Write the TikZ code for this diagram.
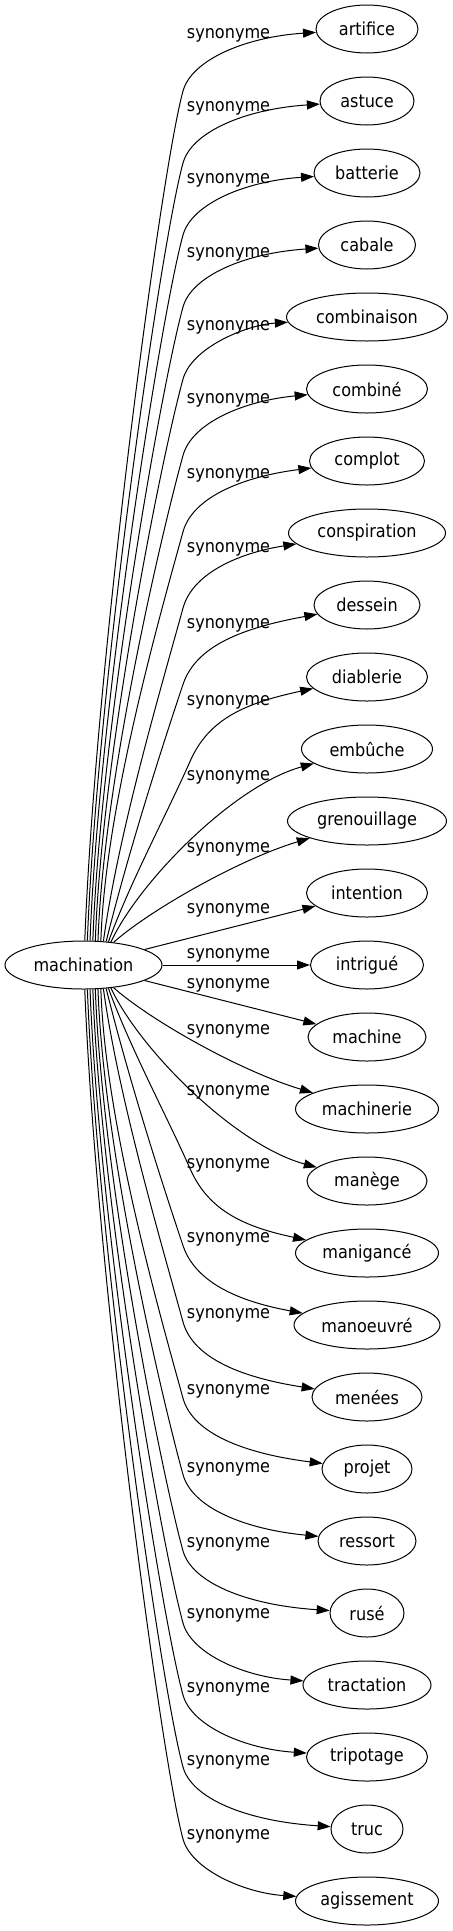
\documentclass[tikz,border=0pt]{standalone}
\usepackage{fontspec}
\setmainfont{DejaVu Sans Condensed}
\usetikzlibrary{shapes.geometric,arrows.meta}
\begin{document}
\begin{tikzpicture}[x=0.75pt,y=-0.75pt,
  every node/.style={font=\fontsize{13.4pt}{16pt}\selectfont},
  term/.style={ellipse, draw, line width=0.75pt, inner sep=0pt, minimum height=36pt},
  rel/.style={anchor=base, inner sep=0pt},
  link/.style={line width=0.75pt, -{Triangle[length=9.75pt,width=6.75pt]}}]
\path[fill=white, use as bounding box] (0,0) rectangle (453,1931);
\node[term, minimum width=117.75pt] (m) at (83.5,965) {machination};
\foreach \i/\w/\t/\ly in {0/102/artifice/33, 1/94/astuce/106, 2/106/batterie/178,
  3/97/cabale/252, 4/161/combinaison/325, 5/121/combiné/398, 6/115/complot/473,
  7/157/conspiration/547, 8/106/dessein/623, 9/121/diablerie/700, 10/131/embûche/775,
  11/159/grenouillage/847, 12/121/intention/908, 13/113/intrigué/953, 14/118/machine/983,
  15/143/machinerie/1029, 16/120/manège/1090, 17/143/manigancé/1163, 18/146/manoeuvré/1237,
  19/110/menées/1313, 20/90/projet/1389, 21/98/ressort/1467, 22/74/rusé/1542,
  23/128/tractation/1613, 24/121/tripotage/1687, 25/72/truc/1760, 26/143/agissement/1834} {
  \pgfmathsetmacro\wpt{\w*0.75}
  \pgfmathsetmacro\ny{29+72*\i}
  \node[term, minimum width=\wpt pt] (n\i) at (367,\ny) {\t};
  \node[rel] (l\i) at (228.5,\ly+5) {synonyme};
}
\foreach \i in {0,...,26} {
  \pgfmathtruncatemacro\k{abs(13-\i)}
  \pgfmathsetmacro\s{(\i<13) ? -1 : 1}
  \pgfmathsetmacro\D{72*\k}
  \pgfmathsetmacro\sx{1+0.035*(936-\D)}
  \pgfmathsetmacro\Sv{23.5*sqrt(1-(\sx/78.5)^2)}
  \pgfmathsetmacro\ang{-\s*atan2(\Sv,\sx)}
  \ifnum\k<2
    \draw[link] (m) -- (n\i);
  \else
    \ifnum\k<4
      \pgfmathsetmacro\ax{\k==2 ? 150 : 140}
      \pgfmathsetmacro\ay{965+\s*(\k==2 ? 55 : 85)}
      \pgfmathsetmacro\dx{\k==2 ? 240 : 235}
      \pgfmathsetmacro\dy{965+\s*(\k==2 ? 106 : 180)}
      \draw[link] (m.\ang) .. controls (\ax,\ay) and (\dx,\dy) .. (n\i);
    \else
      \pgfmathsetmacro\hK{62+0.06*max(0,650-\D)}
      \pgfmathsetmacro\Kx{183+0.23*max(0,320-\D)}
      \pgfmathsetmacro\vK{\D-\hK}
      \pgfmathsetmacro\sig{0.04+0.8*max(0,500-\D)/500}
      \pgfmathsetmacro\La{0.33*(\vK-\Sv)}
      \pgfmathsetmacro\ax{83.5+\sx+\sig*\La}
      \pgfmathsetmacro\ay{965+\s*(\Sv+\La)}
      \pgfmathsetmacro\tau{0.275+0.6*max(0,400-\D)/400}
      \pgfmathsetmacro\Lb{min(80,0.3*(\vK-24))}
      \pgfmathsetmacro\bx{\Kx-\tau*\Lb}
      \pgfmathsetmacro\by{965+\s*(\vK-\Lb)}
      \pgfmathsetmacro\Ky{965+\s*\vK}
      \pgfmathsetmacro\Lc{0.5*\hK}
      \pgfmathsetmacro\cx{\Kx+\tau*\Lc}
      \pgfmathsetmacro\cy{965+\s*(\vK+\Lc)}
      \pgfmathsetmacro\dy{965+\s*(\D-8-0.05*max(0,650-\D))}
      \draw[link] (m.\ang) .. controls (\ax,\ay) and (\bx,\by) .. (\Kx,\Ky)
        .. controls (\cx,\cy) and (245,\dy) .. (n\i);
    \fi
  \fi
}
\end{tikzpicture}
\end{document}
